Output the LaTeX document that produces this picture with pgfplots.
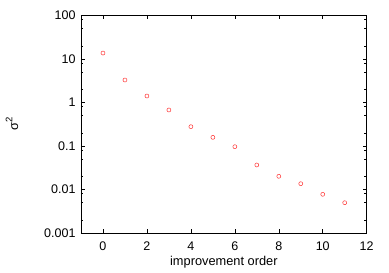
\documentclass[border=0pt]{standalone}
\usepackage{pgfplots}
\pgfplotsset{compat=1.18}
\usepackage{fontspec}
\setmainfont{Liberation Sans}
\begin{document}
\begin{tikzpicture}
\begin{axis}[
  scale only axis,
  width=285.7pt, height=217.5pt,
  ymode=log,
  xmin=-1, xmax=12, ymin=0.001, ymax=100,
  xtick={0,2,4,6,8,10,12},
  ytick={0.001,0.01,0.1,1,10,100},
  yticklabels={0.001,0.01,0.1,1,10,100},
  minor ytick={0.002,0.005,0.008,0.02,0.05,0.08,0.2,0.5,0.8,2,5,8,20,50,80},
  tick align=inside,
  major tick length=4pt,
  minor tick length=2.5pt,
  every tick/.style={black, line width=0.5pt},
  axis line style={black, line width=0.6pt},
  /pgf/number format/assume math mode=true,
  tick label style={font=\fontsize{12.5}{14}\selectfont},
  label style={font=\fontsize{12.8}{14}\selectfont},
  xlabel={improvement order},
  ylabel={σ\raisebox{0.45em}{\fontsize{9.5}{10}\selectfont 2}},
  xlabel style={at={(axis description cs:0.5,0)}, anchor=center, yshift=-29pt},
  ylabel style={at={(axis description cs:-0.2415,0.5)}, anchor=center},
  xticklabel style={yshift=-5pt},
  yticklabel style={xshift=-2pt},
]
\addplot[only marks, mark=o, mark size=2pt, color=red!80, mark options={line width=0.5pt}] coordinates {
(0,13.7) (1,3.29) (2,1.41) (3,0.673) (4,0.278) (5,0.158) (6,0.0964)
(7,0.0366) (8,0.0201) (9,0.0136) (10,0.00775) (11,0.00497)
};
\end{axis}
\useasboundingbox ([xshift=-81pt,yshift=-40pt]current axis.south west) rectangle ([xshift=22.3pt,yshift=15.5pt]current axis.north east);
\end{tikzpicture}
\end{document}
